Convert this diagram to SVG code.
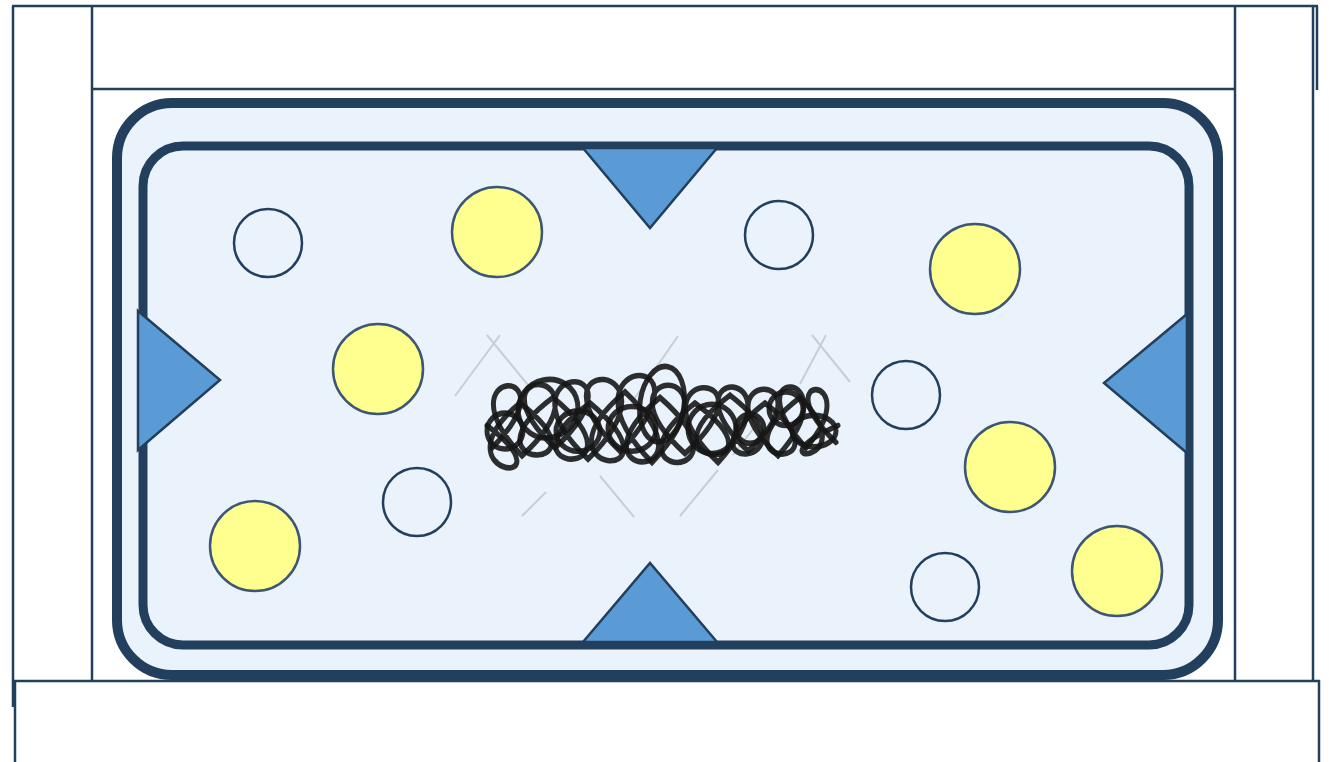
<svg xmlns="http://www.w3.org/2000/svg" width="1329" height="762" viewBox="0 0 1329 762">
  <defs>
    <style>
      .frame { fill: none; stroke: #22405d; stroke-width: 2.5; }
      .ring { fill: #eaf2fc; stroke: #22405d; }
      .pump { fill: #5b9bd5; stroke: #22405d; stroke-width: 2.5; stroke-linejoin: miter; }
      .granule { fill: #ffff8f; stroke: #3d5675; stroke-width: 2.5; }
      .vesicle { fill: #eaf2fc; stroke: #22405d; stroke-width: 2.5; }
      .dna { fill: none; stroke: #1a1a1a; stroke-width: 5; stroke-linecap: round; stroke-opacity: 0.9; }
      .faint { fill: none; stroke: #c9ced3; stroke-width: 2; }
    </style>
    <filter id="soft" x="-5%" y="-20%" width="110%" height="140%">
      <feGaussianBlur stdDeviation="0.7"/>
    </filter>
  </defs>

  <rect width="1329" height="762" fill="#ffffff"/>

  <!-- enclosing frame -->
  <g id="frame">
    <line class="frame" x1="12" y1="6" x2="1318" y2="6"/>
    <line class="frame" x1="13" y1="6" x2="13" y2="707"/>
    <line class="frame" x1="92" y1="6" x2="92" y2="681"/>
    <line class="frame" x1="92" y1="89" x2="1235" y2="89"/>
    <line class="frame" x1="1235" y1="6" x2="1235" y2="681"/>
    <line class="frame" x1="1313" y1="6" x2="1313" y2="681"/>
    <line class="frame" x1="1317" y1="6" x2="1317" y2="90"/>
    <polyline class="frame" points="15,762 15,681 1319,681 1319,762"/>
  </g>

  <!-- cell wall and membrane -->
  <g id="cell-wall">
    <rect class="ring" x="117" y="103" width="1101" height="572" rx="55" ry="55" stroke-width="10"/>
  </g>
  <g id="membrane">
    <rect class="ring" x="143" y="146" width="1046" height="499" rx="40" ry="40" stroke-width="9"/>
  </g>

  <!-- membrane channels -->
  <g id="channel-top"><polygon class="pump" points="583,148 717,148 650,228"/></g>
  <g id="channel-bottom"><polygon class="pump" points="583,642 717,642 650,563"/></g>
  <g id="channel-left"><polygon class="pump" points="138,311 138,450 220,380"/></g>
  <g id="channel-right"><polygon class="pump" points="1187,314 1187,453 1104,383"/></g>

  <!-- storage granules -->
  <g id="granule-1"><circle class="granule" cx="497" cy="232" r="45"/></g>
  <g id="granule-2"><circle class="granule" cx="975" cy="269" r="45"/></g>
  <g id="granule-3"><circle class="granule" cx="378" cy="369" r="45"/></g>
  <g id="granule-4"><circle class="granule" cx="1010" cy="467" r="45"/></g>
  <g id="granule-5"><circle class="granule" cx="255" cy="546" r="45"/></g>
  <g id="granule-6"><circle class="granule" cx="1117" cy="571" r="45"/></g>

  <!-- vesicles -->
  <g id="vesicle-1"><circle class="vesicle" cx="268" cy="243" r="34"/></g>
  <g id="vesicle-2"><circle class="vesicle" cx="779" cy="235" r="34"/></g>
  <g id="vesicle-3"><circle class="vesicle" cx="906" cy="395" r="34"/></g>
  <g id="vesicle-4"><circle class="vesicle" cx="417" cy="502" r="34"/></g>
  <g id="vesicle-5"><circle class="vesicle" cx="945" cy="587" r="34"/></g>

  <!-- nucleoid: faint backdrop strokes -->
  <g id="nucleoid-backdrop">
    <line class="faint" x1="455" y1="396" x2="500" y2="335"/>
    <line class="faint" x1="487" y1="335" x2="532" y2="390"/>
    <line class="faint" x1="800" y1="384" x2="826" y2="335"/>
    <line class="faint" x1="812" y1="335" x2="850" y2="382"/>
    <line class="faint" x1="600" y1="476" x2="634" y2="517"/>
    <line class="faint" x1="680" y1="516" x2="718" y2="470"/>
    <line class="faint" x1="635" y1="398" x2="678" y2="336" stroke-width="4"/>
    <line class="faint" x1="522" y1="516" x2="546" y2="492" stroke-width="4"/>
    <line class="faint" x1="733" y1="455" x2="760" y2="420" stroke-width="3"/>
  </g>

  <!-- nucleoid: tangled chromosome, stretched slightly upward/downward about its centre line -->
  <g id="nucleoid" filter="url(#soft)">
    <g transform="translate(0 421) scale(1 1.12) translate(0 -421)">
      <path class="dna" d="M492,445
        C577,368 437,372 522,452
        C620,372 462,365 555,445
        C655,360 488,370 588,455
        C690,365 518,358 620,448
        C725,350 548,363 652,458
        C750,365 587,370 685,450
        C785,368 620,373 718,458
        C808,370 658,370 748,448
        C838,372 688,375 778,452
        C855,375 728,368 806,445
        C870,378 760,375 836,440"/>
      <path class="dna" d="M487,425
        C575,485 432,470 520,405
        C615,470 455,465 553,400
        C655,475 488,470 590,405
        C690,480 525,470 625,395
        C725,480 560,475 660,400
        C760,478 595,475 695,405
        C795,470 630,465 730,398
        C825,463 670,470 765,405
        C855,468 705,465 800,400
        C870,462 745,462 838,425"/>
      <ellipse class="dna" cx="505" cy="430" rx="18" ry="16"/>
      <ellipse class="dna" cx="548" cy="410" rx="30" ry="26" transform="rotate(-10 548 410)"/>
      <ellipse class="dna" cx="578" cy="430" rx="22" ry="18"/>
      <ellipse class="dna" cx="662" cy="406" rx="22" ry="34" transform="rotate(10 662 406)"/>
      <ellipse class="dna" cx="632" cy="428" rx="24" ry="20"/>
      <ellipse class="dna" cx="712" cy="428" rx="24" ry="22"/>
      <ellipse class="dna" cx="750" cy="428" rx="14" ry="13"/>
      <ellipse class="dna" cx="786" cy="410" rx="17" ry="15"/>
      <ellipse class="dna" cx="814" cy="430" rx="22" ry="14"/>
    </g>
  </g>
</svg>
